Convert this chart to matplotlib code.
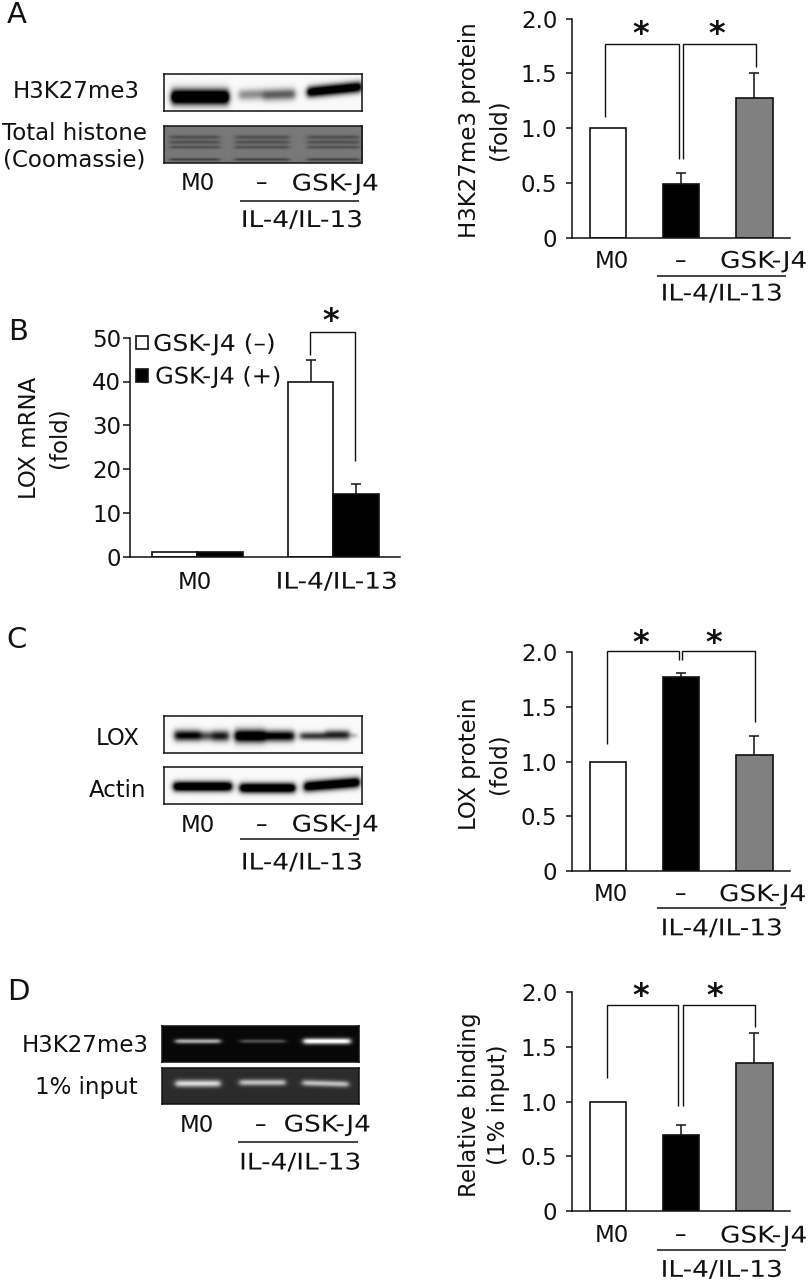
import numpy as np
import matplotlib
matplotlib.use("Agg")
import matplotlib.pyplot as plt
from matplotlib.patheffects import AbstractPathEffect
from matplotlib.transforms import Affine2D, ScaledTranslation

W, H = 808, 1281
DPI = 100
FS = 16.5
INK = "#111111"
plt.rcParams["font.family"] = ["DejaVu Sans"]
plt.rcParams["font.size"] = FS

# ---- data ----
fold_cats = ["M0", "–", "GSK-J4"]
fold_colors = ["white", "black", "#808080"]
yticks_fold = [0, 0.5, 1.0, 1.5, 2.0]
yticklabels_fold = ["0", "0.5", "1.0", "1.5", "2.0"]

a_vals = [1.0, 0.49, 1.28]
a_tops = [None, 0.59, 1.50]
c_vals = [1.0, 1.77, 1.06]
c_tops = [None, 1.81, 1.23]
d_vals = [1.0, 0.70, 1.35]
d_tops = [None, 0.79, 1.63]

b_cats = ["M0", "IL-4/IL-13"]
b_minus = [1.0, 40.0]
b_plus = [1.0, 14.3]
b_minus_top = [None, 45.0]
b_plus_top = [None, 16.7]
b_yticks = [0, 10, 20, 30, 40, 50]

# bracket: x_left, y_left_foot, y_top, x_right, y_right_foot
a_brackets = [(-0.04, 1.10, 1.765, 0.97, 0.72), (1.03, 0.72, 1.765, 2.02, 1.56)]
c_brackets = [(-0.016, 1.16, 2.01, 0.975, 1.93), (1.01, 1.93, 2.01, 2.01, 1.36)]
d_brackets = [(-0.01, 1.22, 1.88, 0.955, 0.96), (1.02, 0.96, 1.88, 2.01, 1.68)]
b_brackets = [(0.825, 46.0, 51.4, 1.16, 21.8)]
a_stars = [(0.45, 1.92), (1.49, 1.92)]
c_stars = [(0.45, 2.15), (1.44, 2.15)]
d_stars = [(0.45, 2.03), (1.46, 2.03)]
b_stars = [(0.98, 55.5)]

# blot bands: x0, x1, y centre, y sigma, amplitude, slope (px within frame)
blot_a1 = [(7, 64, 22.5, 7.5, 1.5, 0.0), (74, 98, 20, 5.5, 0.42, -0.03), (98, 130, 20, 5.8, 0.62, -0.03),
           (142, 196, 15, 5.5, 1.25, -0.1)]
blot_a2 = [(5, 55, 10.7, 2.0, 0.15, 0), (5, 55, 15.7, 2.0, 0.15, 0), (5, 55, 20.7, 1.8, 0.15, 0), (5, 55, 33, 1.5, 0.2, 0),
           (70, 124, 10.7, 2.0, 0.15, 0), (70, 124, 15.7, 2.0, 0.15, 0), (70, 124, 20.7, 1.8, 0.15, 0), (70, 124, 33, 1.5, 0.2, 0),
           (142, 194, 10.7, 2.0, 0.15, 0), (142, 194, 15.7, 2.0, 0.15, 0), (142, 194, 20.7, 1.8, 0.15, 0), (142, 194, 33, 1.5, 0.2, 0)]
blot_c1 = [(10, 36, 19, 5.5, 1.0, 0), (36, 48, 19.5, 5.0, 0.65, 0), (48, 64, 19.5, 5.5, 0.9, 0),
           (70, 100, 19.5, 6.5, 1.25, 0), (100, 129, 19.5, 5.5, 1.05, 0),
           (135, 160, 19.5, 4.0, 0.75, 0), (160, 184, 18.5, 4.8, 0.85, 0), (186, 191, 19, 2.5, 0.3, 0)]
blot_c2 = [(9, 67, 19, 5.0, 1.35, 0), (75, 130, 20.5, 5.0, 1.35, 0), (139, 194, 17, 5.2, 1.35, -0.08)]
blot_d1 = [(13, 58, 14.7, 2.4, 0.65, 0), (78, 123, 14.7, 2.0, 0.28, 0), (141, 188, 14.7, 3.0, 0.98, 0)]
blot_d2 = [(13, 58, 15, 3.6, 0.68, 0), (77, 123, 14, 3.2, 0.58, 0), (140, 186, 15, 3.2, 0.58, 0.03)]


class StretchX(AbstractPathEffect):
    """Widen a text run about its own centre (the source lettering is wider)."""

    def __init__(self, factor):
        super().__init__()
        self.factor = factor

    def draw_path(self, renderer, gc, tpath, affine, rgbFace=None):
        c = 0.5 * (tpath.vertices[:, 0].min() + tpath.vertices[:, 0].max())
        stretched = Affine2D().translate(-c, 0).scale(self.factor, 1).translate(c, 0) + affine
        renderer.draw_path(gc, tpath, stretched, rgbFace)


def widen(t, factor=None):
    s = t.get_text()
    if factor is None:
        factor = 1.15 if ("IL-4" in s or "GSK-J4" in s) else None
    if factor:
        t.set_path_effects([StretchX(factor)])


fig = plt.figure(figsize=(W / DPI, H / DPI), dpi=DPI, facecolor="white")


def px_axes(x0, y0, x1, y1, **kw):
    return fig.add_axes([x0 / W, 1 - y1 / H, (x1 - x0) / W, (y1 - y0) / H], **kw)


ov = px_axes(0, 0, W, H)
ov.set_xlim(0, W)
ov.set_ylim(H, 0)
ov.axis("off")
ov.set_zorder(5)


def txt(x, y, s, size=FS, **kw):
    t = ov.text(x, y, s, fontsize=size, ha="center", va="center", color=INK, **kw)
    widen(t)
    return t


def blot(x0, y0, x1, y1, bands, bg, dark_bands=True):
    ax = px_axes(x0, y0, x1, y1)
    h, w = int(round(y1 - y0)), int(round(x1 - x0))
    yy, xx = np.mgrid[0:h, 0:w]
    img = np.full((h, w), float(bg))
    sign = -1.0 if dark_bands else 1.0
    for bx0, bx1, yc, sy, amp, slope in bands:
        xc = (bx0 + bx1) / 2
        edge = 0.5 * (np.tanh((xx - bx0) / 3.0) - np.tanh((xx - bx1) / 3.0))
        img += sign * amp * edge * np.exp(-((yy - yc - slope * (xx - xc)) / sy) ** 2)
    ax.imshow(np.clip(img, 0, 1), cmap="gray", vmin=0, vmax=1, aspect="auto", interpolation="bilinear")
    ax.set_xticks([])
    ax.set_yticks([])
    for s in ax.spines.values():
        s.set_linewidth(1.1)
        s.set_color(INK)


def under_labels(names, xs, y, x0, x1, yline, xil, yil):
    for n, x in zip(names, xs):
        txt(x, y, n)
    ov.plot([x0, x1], [yline, yline], color=INK, lw=1.1, solid_capstyle="butt")
    txt(xil, yil, "IL-4/IL-13")


def style_axes(ax, ticklen=6.0, pad=6.0):
    ax.spines["top"].set_visible(False)
    ax.spines["right"].set_visible(False)
    ax.spines["left"].set_linewidth(1.1)
    ax.spines["bottom"].set_linewidth(1.1)
    ax.spines["left"].set_color(INK)
    ax.spines["bottom"].set_color(INK)
    ax.patch.set_alpha(0)
    ax.tick_params(axis="y", length=ticklen * 72 / DPI, width=1.1, color=INK, pad=pad, labelsize=FS, labelcolor=INK)
    ax.tick_params(axis="x", length=0, labelsize=FS, labelcolor=INK)


def add_brackets(ax, brackets, stars):
    for xl, yl, yt, xr, yr in brackets:
        ax.plot([xl, xl, xr, xr], [yl, yt, yt, yr], color=INK, lw=1.0, clip_on=False,
                solid_joinstyle="miter", solid_capstyle="butt")
    for x, y in stars:
        ax.annotate("*", (x, y), xytext=(0, -0.50 * 23), textcoords="offset points", fontweight="bold",
                    fontsize=23, ha="center", va="baseline", color="#111111", annotation_clip=False)


def err(ax, xs, vals, tops, cap=2.9):
    for x, v, t in zip(xs, vals, tops):
        if t is None:
            continue
        ax.plot([x, x], [v, t], color=INK, lw=1.1, zorder=1, clip_on=False, solid_capstyle="butt")
        ax.plot([x], [t], marker="_", ms=cap * 2.4, mew=1.1, color=INK, zorder=1, clip_on=False)


def place_ticklabels(ax, shifts, pad):
    # pad first: changing it later would reset the label transforms
    ax.tick_params(axis="x", pad=pad)
    for lab, dx in zip(ax.get_xticklabels(), shifts):
        lab.set_transform(lab.get_transform() + ScaledTranslation(dx / DPI, 0, fig.dpi_scale_trans))
        widen(lab)


def fold_panel(ytop, ybot, vals, tops, brackets, stars, ylabel, ylab_y, lab_off, line_off, il_off, shifts=(4, -1, 9)):
    ax = px_axes(571.7, ytop, 790, ybot)
    xs = np.arange(3)
    ax.bar(xs, vals, width=0.498, color=fold_colors, edgecolor=INK, linewidth=1.2, zorder=2)
    err(ax, xs, vals, tops)
    ax.set_xlim(-0.494, 2.486)
    ax.set_ylim(0, 2)
    ax.set_yticks(yticks_fold)
    ax.set_yticklabels(yticklabels_fold)
    ax.set_xticks(xs)
    ax.set_xticklabels(fold_cats)
    style_axes(ax)
    place_ticklabels(ax, shifts, lab_off - 13)
    add_brackets(ax, brackets, stars)
    ov.text(484, ylab_y, ylabel, rotation=90, fontsize=FS, ha="center", va="center",
            multialignment="center", linespacing=1.35, color=INK)
    ov.plot([656.7, 785.7], [ybot + line_off] * 2, color=INK, lw=1.1, solid_capstyle="butt")
    txt(721.5, ybot + il_off, "IL-4/IL-13")
    return ax


# ---- panel A ----
txt(17, 15, "A", size=21)
blot(163.5, 74, 362, 111, blot_a1, 0.98)
blot(163.5, 126, 362, 163, blot_a2, 0.47)
txt(76, 91.5, "H3K27me3")
txt(74, 133, "Total histone")
txt(74, 160, "(Coomassie)")
under_labels(fold_cats, [198, 262, 335], 184, 240, 359, 201, 301.7, 220.5)
fold_panel(18.5, 238, a_vals, a_tops, a_brackets, a_stars, "H3K27me3 protein\n(fold)", 130, 21.5, 38, 56)

# ---- panel B ----
txt(18, 332, "B", size=21)
axb = px_axes(130, 337.7, 400, 556.7)
xb = np.arange(2)
bw = 0.3346
bm = axb.bar(xb - bw / 2, b_minus, width=bw, color="white", edgecolor=INK, linewidth=1.2, zorder=2, label="GSK-J4 (–)")
bp = axb.bar(xb + bw / 2, b_plus, width=bw, color="black", edgecolor=INK, linewidth=1.2, zorder=2, label="GSK-J4 (+)")
err(axb, xb - bw / 2, b_minus, b_minus_top)
err(axb, xb + bw / 2, b_plus, b_plus_top)
axb.set_xlim(-0.496, 1.489)
axb.set_ylim(0, 50)
axb.set_yticks(b_yticks)
axb.set_xticks(xb)
axb.set_xticklabels(b_cats)
style_axes(axb, ticklen=7, pad=1.2)
place_ticklabels(axb, (-3, 3), 10)
add_brackets(axb, b_brackets, b_stars)
em = FS * DPI / 72
leg = axb.legend(handles=[bm, bp], loc="upper left", bbox_to_anchor=(6 / 270, 1.022), frameon=False,
                 fontsize=FS, handlelength=12 / em, handleheight=12 / em, handletextpad=0.44,
                 labelspacing=0.42, borderpad=0, borderaxespad=0, labelcolor=INK)
widen(leg.get_texts()[0], 1.09)
widen(leg.get_texts()[1], 1.05)
ov.text(44, 437.5, "LOX mRNA\n(fold)", rotation=90, fontsize=FS, ha="center", va="center",
        multialignment="center", linespacing=1.35, color=INK)

# ---- panel C ----
txt(17, 640, "C", size=21)
blot(163.5, 716, 362, 753, blot_c1, 0.98)
blot(163.5, 767, 362, 804, blot_c2, 0.98)
txt(118, 738.5, "LOX")
txt(118, 790.7, "Actin")
under_labels(fold_cats, [198, 262, 335], 825, 240, 359, 839, 301.7, 863)
fold_panel(652, 871.3, c_vals, c_tops, c_brackets, c_stars, "LOX protein\n(fold)", 764, 21.5, 37, 57.5, shifts=(3, -1, 8))

# ---- panel D ----
txt(18, 992, "D", size=21)
blot(162, 1026, 359, 1062, blot_d1, 0.03, dark_bands=False)
blot(162, 1068, 359, 1104, blot_d2, 0.17, dark_bands=False)
txt(85, 1046, "H3K27me3")
txt(86, 1087.5, "1% input")
under_labels(fold_cats, [197, 261, 327], 1125, 238, 358, 1142, 300, 1163)
fold_panel(992, 1211.3, d_vals, d_tops, d_brackets, d_stars, "Relative binding\n(1% input)", 1105, 22.5, 39, 59)

fig.savefig("out.png", dpi=DPI, facecolor="white")
